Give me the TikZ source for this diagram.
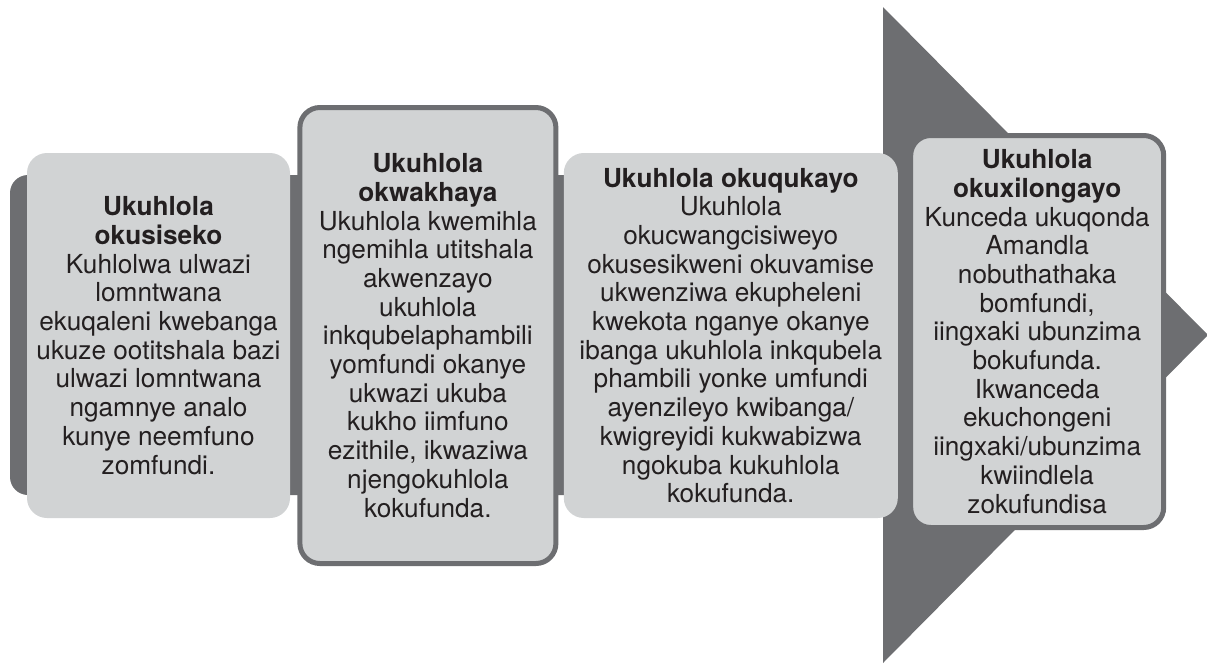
\documentclass[tikz,border=0pt]{standalone}
\usepackage{fontspec}
\setmainfont{TeX Gyre Heros}
\usetikzlibrary{positioning}
\definecolor{arrowgray}{RGB}{109,110,113}
\definecolor{boxgray}{RGB}{209,211,212}
\definecolor{inkcolor}{RGB}{35,31,32}
\newcommand{\stageHead}[1]{{\bfseries #1}}

\begin{document}
\begin{tikzpicture}[x=0.5pt, y=-0.5pt,
			stage/.style={rectangle, rounded corners=10pt, fill=boxgray, text=inkcolor, align=center, inner sep=0pt, font=\fontsize{13.1}{14.35}\selectfont},
			framed/.style={stage, draw=arrowgray, line width=2.5pt},
			band/.style={fill=arrowgray}
		]
		\useasboundingbox (0,0) rectangle (1207,665);
		% the big arrow behind the boxes
		\fill[band] (883,7) -- (1208,335) -- (883,663) -- (883,495) -- (60,495) [rounded corners=9pt] -- (10,495) -- (10,175) [sharp corners] -- (60,175) -- (883,175) -- cycle;

		\node[stage, minimum width=131.5pt, minimum height=182.5pt] (s1) at (158.5,335.5) {\stageHead{Ukuhlola}\\\stageHead{okusiseko}\\Kuhlolwa ulwazi\\lomntwana\\ekuqaleni kwebanga\\ukuze ootitshala bazi\\ulwazi lomntwana\\ngamnye analo\\kunye neemfuno\\zomfundi.};
		\node[framed, minimum width=128pt, minimum height=228pt] (s2) [right=3.5pt of s1] {\stageHead{Ukuhlola}\\\stageHead{okwakhaya}\\Ukuhlola kwemihla\\ngemihla utitshala\\akwenzayo\\ukuhlola\\inkqubelaphambili\\yomfundi okanye\\ukwazi ukuba\\kukho iimfuno\\ezithile, ikwaziwa\\njengokuhlola\\kokufunda.};
		\node[stage, minimum width=167pt, minimum height=182.5pt] (s3) [right=2.5pt of s2] {\stageHead{Ukuhlola okuqukayo}\\Ukuhlola\\okucwangcisiweyo\\okusesikweni okuvamise\\ukwenziwa ekupheleni\\kwekota nganye okanye\\ibanga ukuhlola inkqubela\\phambili yonke umfundi\\ayenzileyo kwibanga/\\kwigreyidi kukwabizwa\\ngokuba kukuhlola\\kokufunda.};
		%\node[framed] (s4) [right=5pt of s3] {};
		\node[framed, minimum width=126.5pt, minimum height=196pt] (s4) [right=5pt of s3, yshift=2pt] {\stageHead{Ukuhlola}\\\stageHead{okuxilongayo}\\Kunceda ukuqonda\\Amandla\\nobuthathaka\\bomfundi,\\iingxaki ubunzima\\bokufunda.\\Ikwanceda\\ekuchongeni\\iingxaki/ubunzima\\kwiindlela\\zokufundisa};
		\end{tikzpicture}
\end{document}
